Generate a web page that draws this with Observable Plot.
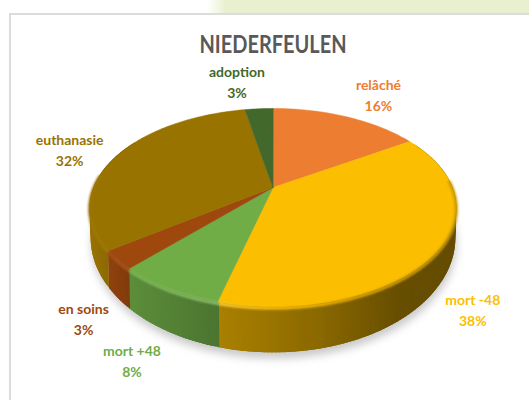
<!DOCTYPE html>
<html><head><meta charset="utf-8">
<script src="https://cdn.jsdelivr.net/npm/d3@7"></script>
<script src="https://cdn.jsdelivr.net/npm/@observablehq/plot@0.6"></script>
<style>
html,body{margin:0;padding:0;background:#fff;overflow:hidden}
#stage{position:relative;width:529px;height:400px;
 background:linear-gradient(to right,#fff 207px,#e8f0cf 226px) top/100% 13px no-repeat #fff;}
#frame{position:absolute;left:9px;top:13px;right:0;bottom:0;background:#fff;border-left:2px solid #dcdcdc;border-top:2px solid #dcdcdc}
#chart{position:absolute;left:0;top:0}
svg{background:transparent!important;display:block}
</style></head><body>
<div id="stage"><div id="frame"></div><div id="chart"></div></div>
<script>
const chartTitle = "NIEDERFEULEN";
const categories = ["relâché", "mort -48", "mort +48", "en soins", "euthanasie", "adoption"];
const shares = [16, 38, 8, 3, 32, 3];
const colours = ["#ED7D31", "#FBBE00", "#70AD47", "#9E480E", "#997300", "#43682B"];
const labelNudgeX = [32, 35, -36, -34, -48, -22];
const labelNudgeY = [-23, 58, 71, 58, -6, -28];

// Perspective disc: top face and bottom face of the drum
const view = {cx: 272.5, Rx: 179.5, k: 0.202, topY: 187, topRy: 95, botY: 214, botRy: 110, botScale: 0.995};
function project(a, face) {
  const u = Math.sin(a), v = -Math.cos(a), d = 1 - view.k * v;
  return face === "top"
    ? [view.cx + view.Rx * u / d, view.topY + view.topRy * v / d]
    : [view.cx + view.botScale * view.Rx * u / d, view.botY + view.botRy * v / d];
}
const deg = Math.PI / 180;
const total = d3.sum(shares);
let run = 0;
const slices = categories.map((name, i) => {
  const start = run / total * 2 * Math.PI; run += shares[i];
  return {i, name, share: shares[i], colour: colours[i], start, end: run / total * 2 * Math.PI};
});
const sliceAt = a => slices.find(s => a >= s.start && a < s.end) || slices[slices.length - 1];

const shadeOf = d3.scaleLinear().domain([90, 130, 217, 320, 400, 460]).range([1, .82, .68, .55, .41, .4]).clamp(true);
const shade = (col, f) => { const c = d3.rgb(col); return d3.rgb(c.r * f, c.g * f, c.b * f).formatHex(); };
const rimOf = d3.scaleLinear().domain([90, 130, 217, 290, 380, 460]).range([1.03, 1.1, 1.25, 1.0, .86, .8]).clamp(true);
const rimShade = (col, f) => {
  if (f <= 1) return shade(col, f);
  return d3.interpolateRgb(col, "#ffffff")((f - 1) * .8);
};

// Shadow
const shadowPts = d3.range(0, 360, 3).map(t => {
  const [x, y] = project(t * deg, "bottom");
  return {x: x + 1, y: y + 6};
});

// Side strips, each overlapping the next so no seams show
const sidePts = [], rimPts = [];
for (let t = 60; t < 300; t += 1) {
  const a0 = t * deg, a1 = (t + 2.5) * deg, a2 = (t + 1) * deg, s = sliceAt((t + .5) * deg);
  const aEnd = Math.min(a1, s.end);
  const p0 = project(a0, "top"), p1 = project(aEnd, "top"), b1 = project(aEnd, "bottom"), b0 = project(a0, "bottom");
  const f = shade(s.colour, shadeOf(p0[0]));
  [p0, p1, b1, b0].forEach(p => sidePts.push({q: t, x: p[0], y: p[1], fill: f}));
  if (t >= 85 && t < 278) {
    const r = rimShade(s.colour, rimOf(p0[0]));
    const p2 = project(Math.min(a2 + .3 * deg, s.end), "top");
    [p0, p2].forEach(p => rimPts.push({q: t, x: p[0], y: p[1] + 1.5, stroke: r}));
  }
}

// Top faces
const facePts = slices.flatMap(s => {
  const n = Math.max(2, Math.ceil((s.end - s.start) / deg));
  const arc = d3.range(n + 1).map(j => project(s.start + (s.end - s.start) * j / n, "top"));
  return [[view.cx, view.topY], ...arc].map(p => ({i: s.i, x: p[0], y: p[1], fill: s.colour}));
});

// Labels
const labels = slices.map(s => {
  const p = project((s.start + s.end) / 2, "top");
  return {x: p[0] + labelNudgeX[s.i], y: p[1] + labelNudgeY[s.i], text: `${s.name}\n${s.share}%`, fill: s.colour};
});

const font = "Lato, 'Noto Sans', sans-serif";
const plot = Plot.plot({
  width: 529, height: 400, margin: 0,
  x: {domain: [0, 529], range: [0, 529], axis: null},
  y: {domain: [0, 400], range: [0, 400], axis: null},
  color: {type: "identity"},
  style: {background: "transparent"},
  marks: [
    Plot.line(shadowPts, {x: "x", y: "y", fill: "#c8c8c8", stroke: "none", curve: "linear-closed", imageFilter: "blur(4px)"}),
    Plot.line(sidePts, {x: "x", y: "y", z: "q", fill: "fill", stroke: "none", curve: "linear-closed"}),
    Plot.line(facePts, {x: "x", y: "y", z: "i", fill: "fill", stroke: "fill", strokeWidth: .5, curve: "linear-closed"}),
    Plot.line(rimPts, {x: "x", y: "y", z: "q", stroke: "stroke", strokeWidth: 3, strokeLinecap: "butt", imageFilter: "blur(0.9px)"}),
    Plot.text(labels, {x: "x", y: "y", text: "text", fill: "fill", fontFamily: font, fontWeight: 700, fontSize: 14, lineHeight: 1.5, textAnchor: "middle"}),
    Plot.text([chartTitle], {x: view.cx, y: 44.5, text: d => d, fill: "#595959", fontFamily: font, fontWeight: 700, fontSize: 24, textAnchor: "middle", className: "chart-title"})
  ]
});
plot.querySelectorAll(".chart-title text").forEach(t => {
  t.setAttribute("textLength", 147);
  t.setAttribute("lengthAdjust", "spacingAndGlyphs");
});
document.getElementById("chart").append(plot);
</script>
</body></html>
